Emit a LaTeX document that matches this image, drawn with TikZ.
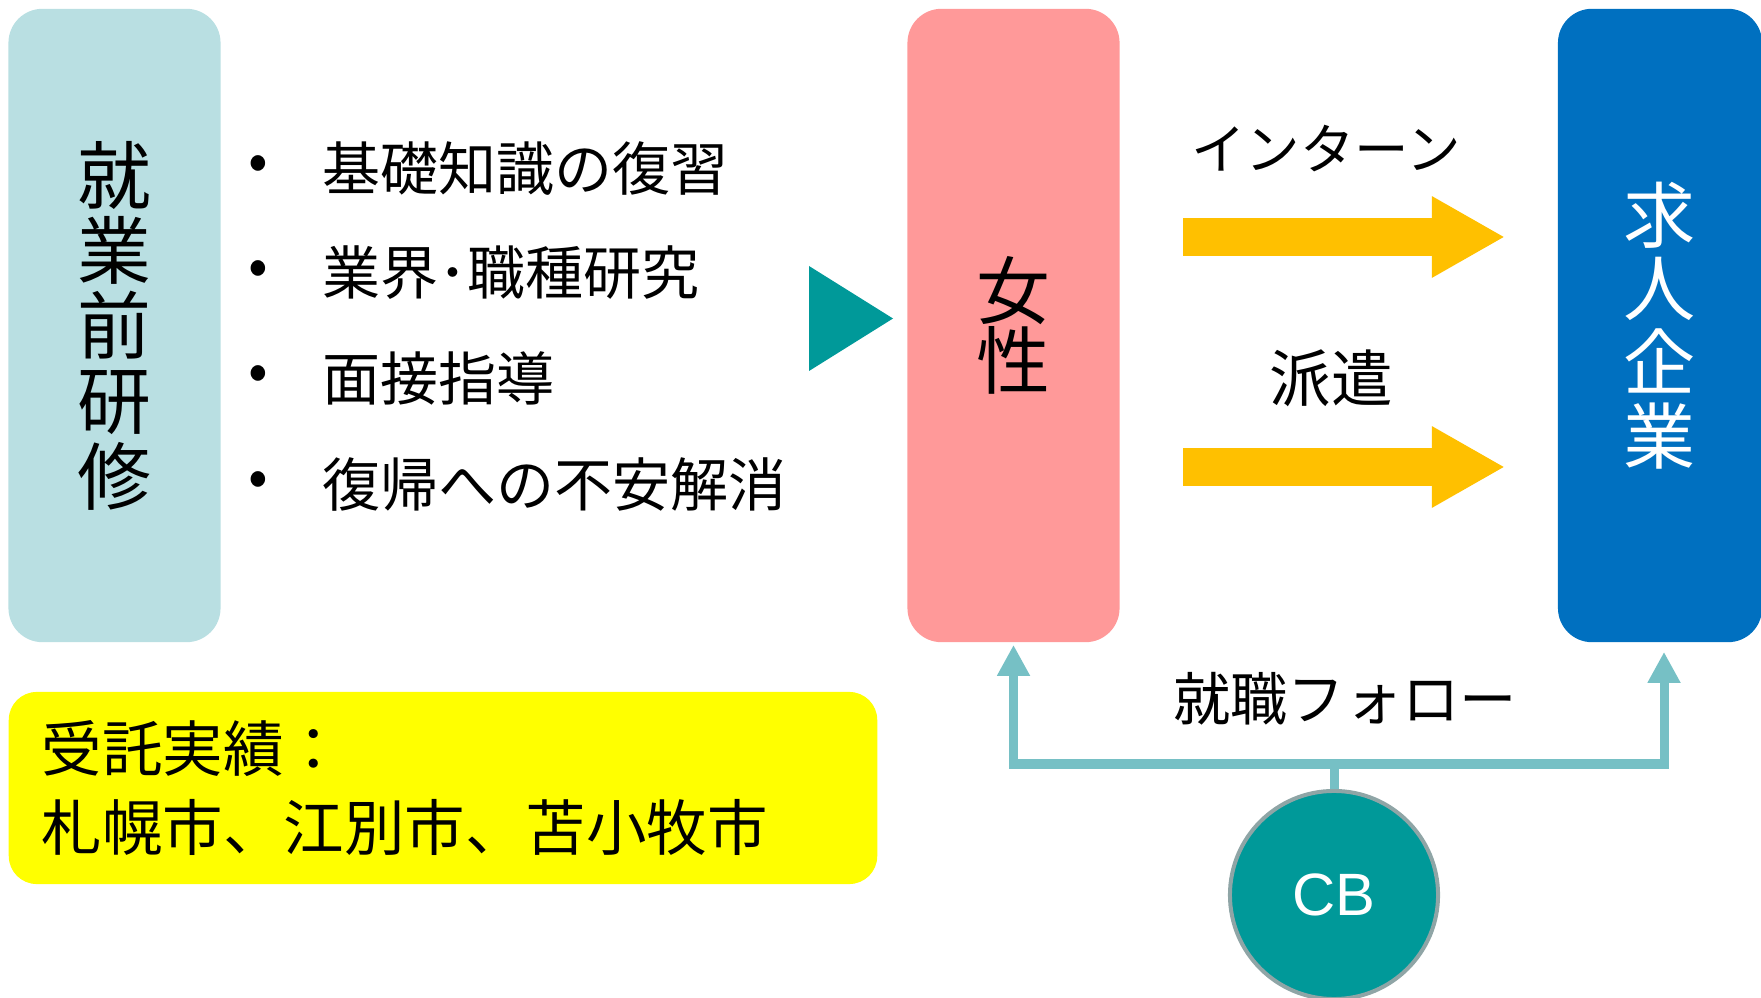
\documentclass[tikz,border=0pt]{standalone}
\usepackage{fontspec}
\setmainfont{Noto Sans CJK JP}
\newfontfamily\latinfont{Liberation Sans}
\usetikzlibrary{arrows.meta}

\definecolor{celeste}{HTML}{B9DFE2}
\definecolor{rosa}{HTML}{FF9999}
\definecolor{azul}{HTML}{0070C0}
\definecolor{verdeazul}{HTML}{009999}
\definecolor{dorado}{HTML}{FFC000}
\definecolor{turquesa}{HTML}{76C0C5}
\definecolor{grisborde}{HTML}{8FA5A6}
\definecolor{amarillo}{HTML}{FFFF00}

\begin{document}
\begin{tikzpicture}[x=0.01cm, y=-0.01cm,
		caja/.style={rounded corners=0.34cm, minimum width=2.12cm, minimum height=6.33cm, align=center, inner sep=0pt},
		punto/.style={inner sep=0pt, font=\fontsize{16.5}{18}\selectfont},
		item/.style={anchor=west, inner sep=0pt, font=\fontsize{16.5}{18}\selectfont},
		flecha/.style={draw=dorado, line width=0.37cm, -{Triangle[length=0.73cm, width=0.76cm]}},
		seguir/.style={draw=turquesa, line width=0.09cm},
		punta/.style={-{Triangle[length=0.31cm, width=0.31cm]}}
		]
		\useasboundingbox (0,0) rectangle (1761,998);
		
		% ---- CAJAS ----
		\node[caja, fill=celeste, font=\fontsize{21}{21.4}\selectfont] (kenshu) at (114.5,325.5) {就\\業\\前\\研\\修};
		\node[caja, fill=rosa, font=\fontsize{21}{20}\selectfont] (josei) at (1013.5,325.5) {女\\性};
		\node[caja, fill=azul, text=white, minimum width=2.04cm, font=\fontsize{20.5}{21}\selectfont] (kigyo) at (1660,325.5) {求\\人\\企\\業};
		
		% ---- LISTA ----
		\node[punto] (p1) at (258,168.5) {•};
		\node[punto] (p2) at (258,273) {•};
		\node[punto] (p3) at (258,378.5) {•};
		\node[punto] (p4) at (258,484) {•};
		\node[item] (item1) at (322,168.5) {基礎知識の復習};
		\node[item] (item2) at (322,273) {業界･職種研究};
		\node[item] (item3) at (322,378.5) {面接指導};
		\node[item] (item4) at (322,484) {復帰への不安解消};
		
		% ---- TRIANGULO ----
		\fill[verdeazul] (809,266) -- (893,318.5) -- (809,371) -- cycle;
		
		% ---- FLECHAS ----
		\coordinate (i1) at (1183,237);
		\coordinate (i2) at (1505,237);
		\coordinate (h1) at (1183,467);
		\coordinate (h2) at (1505,467);
		\draw[flecha] (i1) -- (i2);
		\draw[flecha] (h1) -- (h2);
		\node[font=\fontsize{15.5}{18}\selectfont] (intern) at (1326,149) {インターン};
		\node[font=\fontsize{17.5}{20}\selectfont] (haken) at (1331.5,378) {派遣};
		
		% ---- SEGUIMIENTO ----
		\node[circle, fill=verdeazul, draw=grisborde, line width=0.04cm, minimum size=2.08cm, text=white, font=\latinfont\fontsize{17}{20}\selectfont] (cb) at (1334,895) {CB};
		\coordinate (union) at (1334,764);
		\draw[seguir] (cb.north) -- (union);
		\draw[seguir, punta] (union) -| ([yshift=-0.02cm]josei.south);
		\draw[seguir, punta] (union) -| ([xshift=0.04cm, yshift=-0.09cm]kigyo.south);
		\node[font=\fontsize{16.3}{18}\selectfont] (follow) at (1345,699) {就職フォロー};
		
		% ---- RESULTADOS ----
		\node[rounded corners=0.28cm, fill=amarillo, minimum height=1.92cm, text width=8.02cm, inner xsep=0.33cm, inner ysep=0pt, align=left, font=\fontsize{17.2}{22.2}\selectfont] (jisseki) at (443,788) {受託実績：\\札幌市、江別市、苫小牧市};
		
	\end{tikzpicture}
\end{document}
